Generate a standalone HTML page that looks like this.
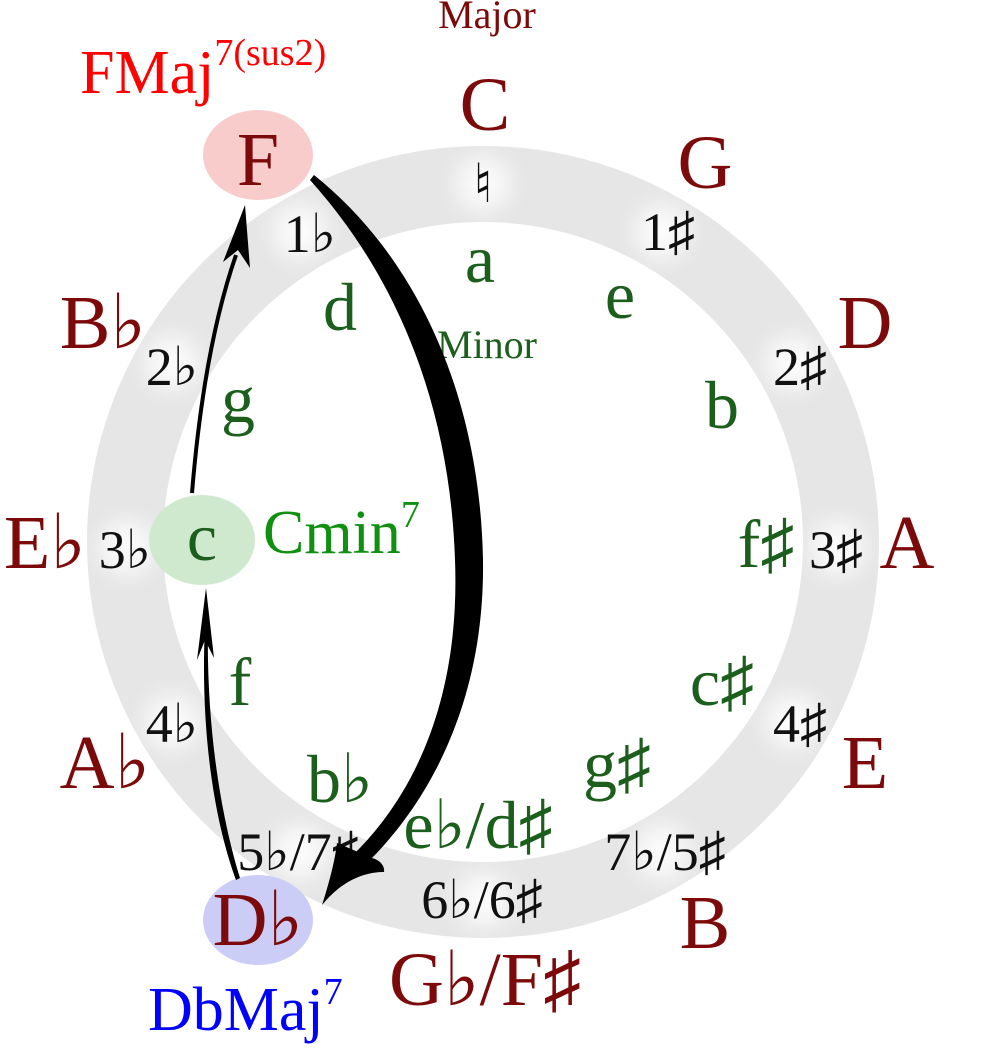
<!DOCTYPE html>
<html><head><meta charset="utf-8"><style>
html,body{margin:0;padding:0;background:#fff}
svg{display:block}
text{font-family:"Liberation Serif","DejaVu Serif",serif}
.M{fill:#7d0a0a;font-size:76px;text-anchor:middle}
.m{fill:#1c5e1c;font-size:68px;text-anchor:middle}
.n{fill:#111;font-size:54px;text-anchor:middle}
</style></head><body>
<svg width="1000" height="1050" viewBox="0 0 1000 1050" xmlns="http://www.w3.org/2000/svg">
<defs>
<filter id="bl" x="-50%" y="-50%" width="200%" height="200%"><feGaussianBlur stdDeviation="12"/></filter>
</defs>
<circle cx="483" cy="542" r="358" fill="none" stroke="#e6e6e6" stroke-width="76"/>
<g fill="#fff" filter="url(#bl)" opacity="0.9">
<circle cx="483" cy="184" r="26"/><circle cx="662" cy="232" r="26"/><circle cx="793" cy="363" r="26"/>
<circle cx="838" cy="548" r="26"/><circle cx="793" cy="722" r="26"/><circle cx="662" cy="852" r="26"/>
<circle cx="483" cy="900" r="26"/><circle cx="300" cy="852" r="26"/><circle cx="172" cy="722" r="26"/>
<circle cx="127" cy="548" r="26"/><circle cx="172" cy="363" r="26"/><circle cx="300" cy="232" r="26"/>
</g>
<ellipse cx="258" cy="155" rx="55" ry="45" fill="#f9cccc"/>
<ellipse cx="202" cy="540" rx="53" ry="45" fill="#cfe9cf"/>
<ellipse cx="258" cy="920" rx="55" ry="45" fill="#cccdf6"/>

<text x="487" y="28" fill="#7d0a0a" font-size="40" text-anchor="middle">Major</text>
<text x="487" y="358" fill="#1c5e1c" font-size="40" text-anchor="middle">Minor</text>

<text class="M" x="485" y="130">C</text>
<text class="M" x="705" y="188">G</text>
<text class="M" x="865" y="348">D</text>
<text class="M" x="907" y="568">A</text>
<text class="M" x="865" y="788">E</text>
<text class="M" x="705" y="948">B</text>
<text class="M" x="485" y="1005">G♭/F♯</text>
<text class="M" x="258" y="945">D♭</text>
<text class="M" x="105" y="788">A♭</text>
<text class="M" x="45" y="568">E♭</text>
<text class="M" x="103" y="348">B♭</text>
<text class="M" x="258" y="185">F</text>

<text class="n" x="483" y="202">♮</text>
<text class="n" x="668" y="250">1♯</text>
<text class="n" x="800" y="385">2♯</text>
<text class="n" x="836" y="568">3♯</text>
<text class="n" x="800" y="742">4♯</text>
<text class="n" x="665" y="870">7♭/5♯</text>
<text class="n" x="482" y="918">6♭/6♯</text>
<text class="n" x="298" y="870">5♭/7♯</text>
<text class="n" x="172" y="742">4♭</text>
<text class="n" x="125" y="568">3♭</text>
<text class="n" x="172" y="385">2♭</text>
<text class="n" x="310" y="252">1♭</text>

<text class="m" x="480" y="282">a</text>
<text class="m" x="620" y="318">e</text>
<text class="m" x="722" y="428">b</text>
<text class="m" x="766" y="567">f♯</text>
<text class="m" x="722" y="705">c♯</text>
<text class="m" x="617" y="787">g♯</text>
<text class="m" x="478" y="848">e♭/d♯</text>
<text class="m" x="340" y="802">b♭</text>
<text class="m" x="240" y="705">f</text>
<text class="m" x="202" y="560">c</text>
<text class="m" x="238" y="422">g</text>
<text class="m" x="340" y="330">d</text>

<text x="80" y="93" fill="#ff0000" font-size="62">FMaj<tspan font-size="38" dy="-28">7(sus2)</tspan></text>
<text x="263" y="553" fill="#109010" font-size="62">Cmin<tspan font-size="38" dy="-26">7</tspan></text>
<text x="148" y="1030" fill="#0000ff" font-size="62">DbMaj<tspan font-size="38" dy="-26">7</tspan></text>

<!-- arrow Db -> c -->
<path d="M236,880 C214,820 200,730 205,625 L208,625 C206,730 222,820 240,878 Z" fill="#000"/>
<path d="M206,588 L197,660 L205,640 L214,658 Z" fill="#000"/>
<path d="M192,493 C198,420 210,330 236,255" fill="none" stroke="#000" stroke-width="4"/>
<path d="M245,205 L223,262 L238,250 L250,268 Z" fill="#000"/>
<!-- big arrow F -> Db -->
<path d="M314,175 C420,260 480,400 483,560 C485,700 430,800 370,860 L352,856 C420,790 460,690 455,560 C450,410 400,280 310,180 Z" fill="#000"/>
<path d="M322,905 C330,880 335,860 337,843 L372,858 C380,860 385,866 384,872 C360,872 338,885 322,905 Z" fill="#000"/>
</svg>
</body></html>
